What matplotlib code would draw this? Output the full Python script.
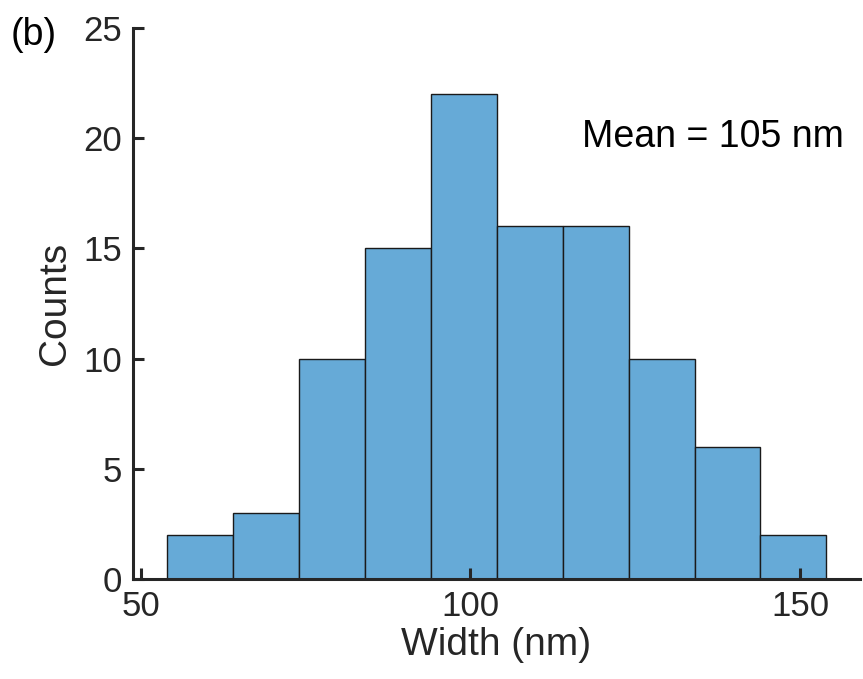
import matplotlib
matplotlib.use("Agg")
import matplotlib.pyplot as plt
import numpy as np

plt.rcParams['font.family'] = ['Liberation Sans', 'DejaVu Sans']

bin_edges = [54, 64, 74, 84, 94, 104, 114, 124, 134, 144, 154]
counts = [2, 3, 10, 15, 22, 16, 16, 10, 6, 2]
xticks = [50, 100, 150]
yticks = [0, 5, 10, 15, 20, 25]

fig = plt.figure(figsize=(8.63, 6.79), dpi=100)
ax = fig.add_axes([0.1541, 0.1473, 0.8424, 0.8115])

edges = np.array(bin_edges)
ax.bar(edges[:-1], counts, width=np.diff(edges), align='edge',
       color='#66AAD7', edgecolor='#1a1a1a', linewidth=1.0)

ax.set_xlim(48.8, 159.1)
ax.set_ylim(0, 25)
ax.set_xticks(xticks)
ax.set_yticks(yticks)

axcol = '#262626'
for s in ['top', 'right']:
    ax.spines[s].set_visible(False)
for s in ['left', 'bottom']:
    ax.spines[s].set_linewidth(2.2)
    ax.spines[s].set_color(axcol)
ax.tick_params(direction='in', length=8, width=2.2, colors=axcol,
               labelsize=25, pad=8)

ax.set_xlabel('Width (nm)', fontsize=28, color=axcol, labelpad=3)
ax.set_ylabel('Counts', fontsize=28, color=axcol, labelpad=7)

ax.text(0.618, 0.784, 'Mean = 105 nm', transform=ax.transAxes,
        fontsize=27, ha='left', va='baseline', color='black')
fig.text(0.012, 0.975, '(b)', fontsize=27, color='black', va='top')

fig.savefig('out.png', dpi=100)
